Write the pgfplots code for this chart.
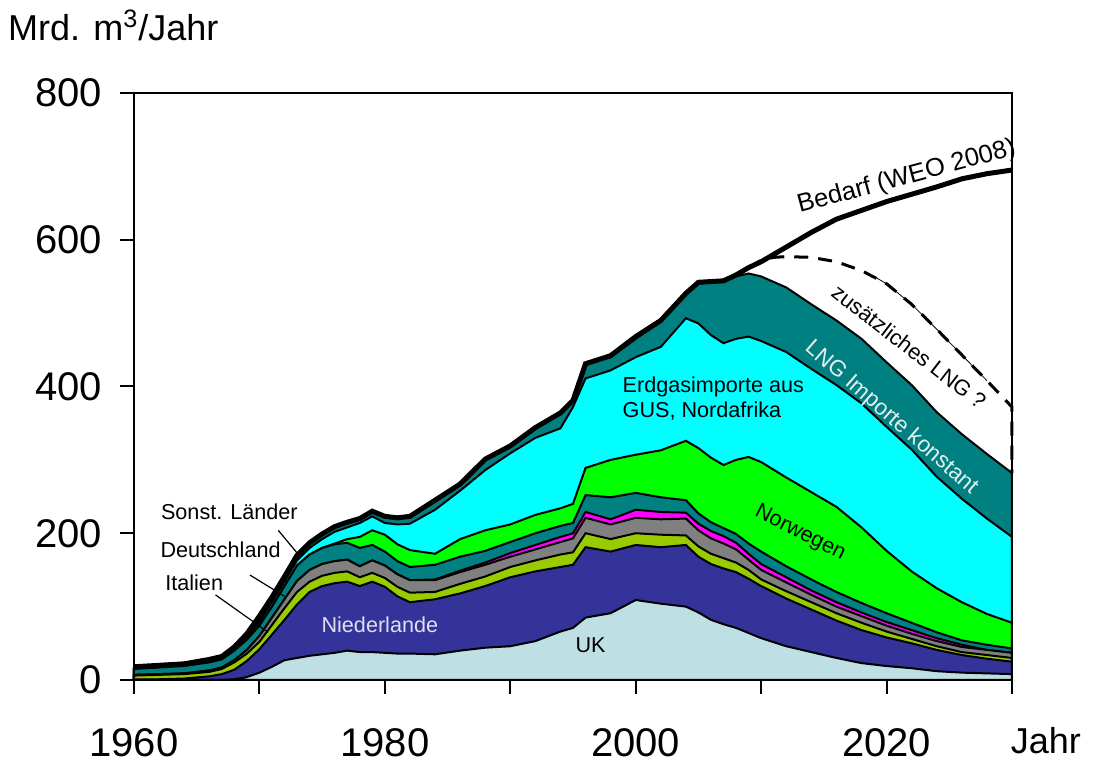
\documentclass[border=0pt]{standalone}
\usepackage{fontspec}
\setmainfont{Liberation Sans}
\usepackage{pgfplots}
\usepackage{pgfplotstable}
\pgfplotsset{compat=1.18}

\definecolor{ukc}{RGB}{190,224,228}
\definecolor{nlc}{RGB}{51,51,153}
\definecolor{itc}{RGB}{153,204,0}
\definecolor{dec}{RGB}{128,128,128}
\definecolor{dkc}{RGB}{255,0,255}
\definecolor{soc}{RGB}{0,128,128}
\definecolor{noc}{RGB}{0,255,0}
\definecolor{gusc}{RGB}{0,255,255}
\definecolor{lngc}{RGB}{0,128,128}

% cumulative tops of the stacked layers
\pgfplotstableread{
year UK NL IT DE DK SO NO GUS LNG BED
1960 0 1 6 7 7 15 15 15 17 18
1962 0 1 7 8 8 17 17 17 19 20
1964 0 2 8 9 9 19 19 19 21 22
1966 0 5 11 13 13 24 24 24 27 28
1967 0 8 15 17 17 28 28 28 31 32
1968 1 14 24 27 27 40 40 41 44 45
1969 4 26 36 41 41 55 55 58 62 63
1970 10 42 52 60 60 74 74 79 86 87
1971 18 62 75 85 85 100 100 106 112 113
1972 27 82 98 110 110 128 128 134 140 141
1973 30 103 120 135 135 156 156 163 169 170
1974 33 120 134 150 150 171 171 180 186 187
1975 35 128 142 158 158 180 180 192 198 199
1976 37 132 146 162 162 185 186 202 208 209
1977 40 134 148 164 164 187 192 208 214 215
1978 38 128 140 155 155 180 195 214 219 220
1979 38 134 146 163 163 184 204 223 229 230
1980 37 127 139 156 156 175 198 214 222 223
1981 36 114 127 144 144 162 185 212 220 221
1982 36 106 119 136 136 154 177 213 222 223
1984 35 110 120 136 137 157 172 232 244 245
1986 40 118 131 147 149 168 192 258 266 267
1988 44 128 141 157 160 176 204 286 300 301
1990 46 140 154 168 173 188 212 309 318 319
1992 53 148 163 178 184 200 225 330 343 344
1994 66 154 171 188 195 210 234 343 363 364
1995 71 157 174 193 200 214 240 372 380 381
1996 85 181 200 221 229 252 289 411 430 431
1998 91 175 192 212 219 249 300 422 440 442
2000 109 184 200 221 232 255 307 440 465 468
2002 104 181 198 219 229 249 313 454 488 490
2004 100 184 197 220 228 245 326 493 525 527
2005 92 168 182 204 213 227 316 486 540 542
2006 82 158 172 193 203 215 303 470 542 543
2007 76 152 166 186 196 207 293 459 545 544
2008 71 147 160 178 187 199 300 465 550 552
2009 64 138 150 164 172 186 304 468 554 562
2010 57 128 137 150 158 175 297 462 550 570
2012 46 111 121 133 140 155 276 447 535 590
2014 38 96 106 116 122 137 256 424 512 610
2016 30 81 91 100 106 120 236 402 490 628
2018 23 68 78 87 92 105 208 377 465 640
2020 19 58 66 74 79 91 176 345 433 652
2022 16 50 56 63 68 78 148 314 402 662
2024 12 41 46 53 57 65 125 277 365 672
2026 10 34 38 45 48 54 106 247 335 683
2028 9 29 34 41 41 48 90 220 308 690
2030 8 25 30 37 37 43 78 195 282 695
}\data

\begin{document}
\begin{tikzpicture}
\useasboundingbox (-67pt,-41.5pt) rectangle (480pt,340pt);
\begin{axis}[
  scale only axis, width=439pt, height=293.5pt,
  xmin=1960, xmax=2030, ymin=0, ymax=800,
  axis on top, clip=false,
  axis line style={line width=1pt},
  xtick={1960,1970,...,2030},
  xticklabels={1960,,1980,,2000,,2020,},
  ytick={0,200,400,600,800},
  xtick pos=bottom, ytick pos=left,
  tick align=outside,
  major tick length=7pt,
  tick style={line width=1pt, black},
  /pgf/number format/assume math mode=true,
  ticklabel style={font=\fontsize{20}{24}\selectfont},
  xticklabel style={yshift=-14pt},
  yticklabel style={xshift=-5.5pt},
]
\addplot[draw=black, line width=1pt, fill=lngc] table[x=year,y=LNG]{\data} \closedcycle;
\addplot[draw=black, line width=1pt, fill=gusc] table[x=year,y=GUS]{\data} \closedcycle;
\addplot[draw=black, line width=1pt, fill=noc] table[x=year,y=NO]{\data} \closedcycle;
\addplot[draw=black, line width=1pt, fill=soc] table[x=year,y=SO]{\data} \closedcycle;
\addplot[draw=black, line width=1pt, fill=dkc] table[x=year,y=DK]{\data} \closedcycle;
\addplot[draw=black, line width=1pt, fill=dec] table[x=year,y=DE]{\data} \closedcycle;
\addplot[draw=black, line width=1pt, fill=itc] table[x=year,y=IT]{\data} \closedcycle;
\addplot[draw=black, line width=1pt, fill=nlc] table[x=year,y=NL]{\data} \closedcycle;
\addplot[draw=black, line width=1pt, fill=ukc] table[x=year,y=UK]{\data} \closedcycle;

% Bedarf
\addplot[black, line width=2.5pt] table[x=year,y=BED]{\data};
% zusaetzliches LNG
\addplot[black, line width=0.4pt] coordinates {(2019,550) (2020,540) (2022,512) (2024,478) (2026,443) (2028,408)};
\addplot[black, line width=1.5pt, dash pattern=on 7pt off 5pt] coordinates {(2009,562) (2010,572) (2011,576) (2012,577) (2014,576) (2016,570) (2018,558) (2020,540) (2022,512) (2024,478) (2026,443) (2028,408) (2030,372) (2030,282)};

% labels
\node[anchor=west, font=\fontsize{18}{22}\selectfont] at (axis cs:1949.4,892) {Mrd. m\textsuperscript{3}/Jahr};
\node[font=\fontsize{18}{22}\selectfont] at (axis cs:2032.7,-82) {Jahr};
\node[font=\fontsize{12.8}{15}\selectfont, rotate=15] at (axis cs:2021.6,685) {Bedarf (WEO 2008)};
\node[font=\fontsize{10.9}{13}\selectfont, rotate=-37.6, inner sep=0pt] at (axis cs:2021.8,454) {zusätzliches LNG ?};
\node[font=\fontsize{11.3}{13}\selectfont, rotate=-41, inner sep=0pt, text={rgb,255:red,225;green,240;blue,240}] at (axis cs:2020.4,357) {LNG Importe konstant};
\node[font=\fontsize{10.8}{13}\selectfont, rotate=-27] at (axis cs:2013.1,200) {Norwegen};
\node[anchor=west, align=left, font=\fontsize{10.8}{12.5}\selectfont] at (axis cs:1998.4,384) {Erdgasimporte aus\\GUS, Nordafrika};
\node[font=\fontsize{10.8}{13}\selectfont, text={rgb,255:red,222;green,222;blue,238}] at (axis cs:1979.6,75) {Niederlande};
\node[font=\fontsize{10.8}{13}\selectfont] at (axis cs:1996.4,48) {UK};
\node[font=\fontsize{10.8}{13}\selectfont] at (axis cs:1967.6,229) {Sonst. Länder};
\node[font=\fontsize{10.8}{13}\selectfont] at (axis cs:1966.9,177) {Deutschland};
\node[font=\fontsize{10.8}{13}\selectfont] at (axis cs:1964.8,132) {Italien};
\draw[black, line width=0.6pt] (axis cs:1971.5,204) -- (axis cs:1973.2,169);
\draw[black, line width=0.6pt] (axis cs:1969.25,143) -- (axis cs:1972,114);
\draw[black, line width=0.6pt] (axis cs:1966.5,116) -- (axis cs:1970.7,65);
\end{axis}
\end{tikzpicture}
\end{document}
